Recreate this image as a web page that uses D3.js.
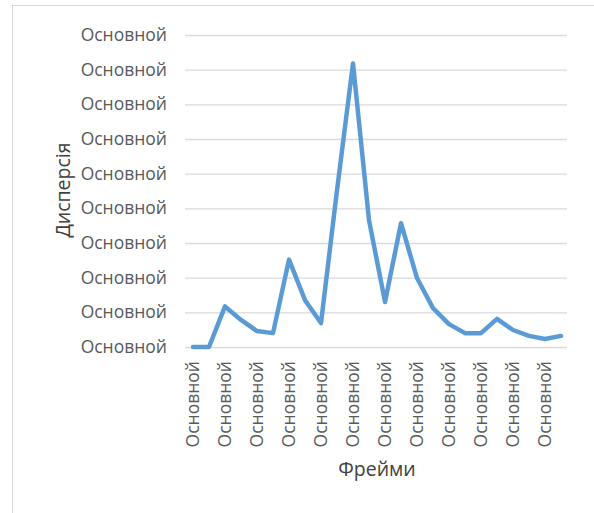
<!DOCTYPE html>
<html>
<head>
<meta charset="utf-8">
<script src="https://cdn.jsdelivr.net/npm/d3@7"></script>
<style>
  body { margin: 0; background: #fff; }
  text { font-family: "Open Sans", "Noto Sans", sans-serif; fill: #595959; }
</style>
</head>
<body>
<svg id="chart"></svg>
<script>
// Chart data (in gridline units)
const frames = d3.range(24).map(i => "Основной");
const dispersion = [0, 0, 1.17, 0.78, 0.46, 0.40, 2.52, 1.35, 0.69, 4.52, 8.18, 3.66,
  1.30, 3.57, 1.99, 1.12, 0.66, 0.40, 0.40, 0.81, 0.49, 0.32, 0.23, 0.32];
const yTickLabels = ["Основной", "Основной", "Основной", "Основной", "Основной",
  "Основной", "Основной", "Основной", "Основной", "Основной"];

const W = 594, H = 513;
const margin = { top: 35, right: 25, bottom: 166, left: 185 };
const width = W - margin.left - margin.right;
const height = H - margin.top - margin.bottom;

const svg = d3.select("#chart")
  .attr("width", W)
  .attr("height", H);

// Outer chart frame (runs off the right and bottom edges)
svg.append("rect")
  .attr("x", 12.5)
  .attr("y", 5.5)
  .attr("width", W)
  .attr("height", H)
  .attr("fill", "none")
  .attr("stroke", "#d9d9d9");

const g = svg.append("g")
  .attr("transform", `translate(${margin.left},${margin.top})`);

const x = d3.scaleBand()
  .domain(d3.range(frames.length))
  .range([0, width]);

const y = d3.scaleLinear()
  .domain([0, yTickLabels.length - 1])
  .range([height, 0]);

// Gridlines + y labels
const yAxis = g.append("g")
  .call(d3.axisLeft(y)
    .tickValues(d3.range(yTickLabels.length))
    .tickSize(-width + 2)
    .tickPadding(18)
    .tickFormat(i => yTickLabels[i]));
yAxis.select(".domain").remove();
yAxis.selectAll(".tick line").attr("stroke", "#d9d9d9").attr("stroke-width", 1.3);
yAxis.selectAll(".tick text")
  .style("font-size", "17.5px")
  .attr("fill", "#595959");

// X labels (every other category, rotated)
const xAxis = g.append("g")
  .attr("transform", `translate(0,${height})`)
  .call(d3.axisBottom(x)
    .tickValues(d3.range(0, frames.length, 2))
    .tickSize(0)
    .tickFormat(i => frames[i]));
xAxis.select(".domain").remove();
xAxis.selectAll(".tick text")
  .style("font-size", "17.5px")
  .attr("fill", "#595959")
  .attr("transform", "rotate(-90)")
  .attr("text-anchor", "end")
  .attr("dy", "0.35em")
  .attr("y", 0)
  .attr("x", -14);

// Line
const line = d3.line()
  .x((d, i) => x(i) + x.bandwidth() / 2)
  .y(d => y(d));

g.append("path")
  .datum(dispersion)
  .attr("fill", "none")
  .attr("stroke", "#5b9bd5")
  .attr("stroke-width", 4.5)
  .attr("stroke-linejoin", "round")
  .attr("stroke-linecap", "round")
  .attr("d", line);

// Axis titles
svg.append("text")
  .attr("x", 377)
  .attr("y", 476)
  .attr("text-anchor", "middle")
  .style("font-size", "19.5px")
  .style("fill", "#404040")
  .text("Фрейми");

svg.append("text")
  .attr("transform", "translate(62,190) rotate(-90)")
  .attr("text-anchor", "middle")
  .attr("dominant-baseline", "central")
  .style("font-size", "19.5px")
  .style("fill", "#404040")
  .text("Дисперсія");
</script>
</body>
</html>
